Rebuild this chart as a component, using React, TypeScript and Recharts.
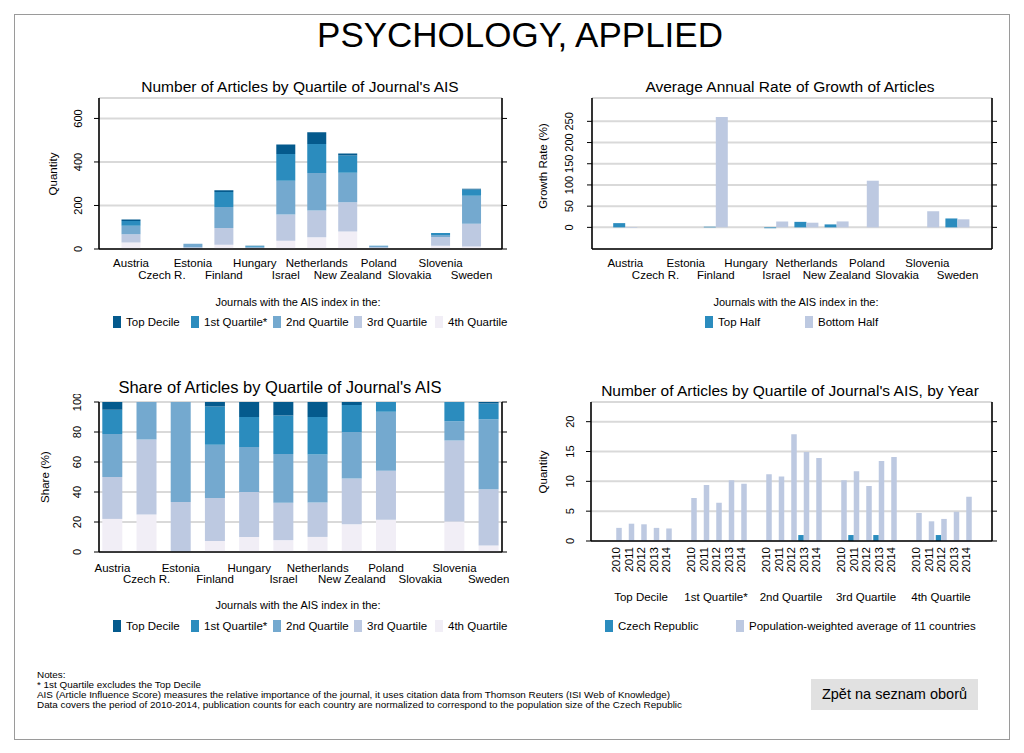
import React from "react";
import { BarChart, Bar, XAxis, YAxis, CartesianGrid } from "recharts";

const FONT = "'Liberation Sans', Arial, Helvetica, sans-serif";

// ---------------- data ----------------
const countries = ["Austria", "Czech R.", "Estonia", "Finland", "Hungary", "Israel", "Netherlands", "New Zealand", "Poland", "Slovakia", "Slovenia", "Sweden"];

const quartileNames = ["Top Decile", "1st Quartile*", "2nd Quartile", "3rd Quartile", "4th Quartile"];
const quartileColors = ["#045a8d", "#2b8cbe", "#74a9cf", "#bdc9e1", "#f1eef6"];

const topDecile = [7, 0, 0, 8, 1.5, 43, 54, 9, 0, 0, 0, 3];
const firstQuartile = [22, 0, 0, 69, 3, 123, 134, 79, 1, 0, 9.5, 29];
const secondQuartile = [39, 1, 16, 96, 4.5, 156, 172, 136, 6, 0, 9.5, 129];
const thirdQuartile = [38, 2, 8, 77, 4.5, 120, 123, 134, 5, 0, 40, 104];
const fourthQuartile = [30, 1, 0, 20, 1.5, 38, 54, 81, 3.3, 0, 15, 12];

const halfNames = ["Top Half", "Bottom Half"];
const halfColors = ["#2b8cbe", "#bdc9e1"];
const growthTopHalf = [10, null, null, 1.5, null, -2, 13, 7, null, null, null, 21];
const growthBottomHalf = [-1.5, null, null, 260, null, 14, 11, 14, 110, null, 38, 19];

const years = ["2010", "2011", "2012", "2013", "2014"];
const yearSeriesNames = ["Czech Republic", "Population-weighted average of 11 countries"];
const yearSeriesColors = ["#2b8cbe", "#bdc9e1"];
const czechTopDecile = [0, 0, 0, 0, 0];
const czechFirstQuartile = [0, 0, 0, 0, 0];
const czechSecondQuartile = [0, 0, 0, 1, 0];
const czechThirdQuartile = [0, 1, 0, 1, 0];
const czechFourthQuartile = [0, 0, 1, 0, 0];
const avgTopDecile = [2.2, 2.9, 2.8, 2.2, 2.1];
const avgFirstQuartile = [7.2, 9.4, 6.4, 10.2, 9.6];
const avgSecondQuartile = [11.2, 10.8, 17.9, 14.9, 13.9];
const avgThirdQuartile = [10.2, 11.7, 9.2, 13.4, 14.1];
const avgFourthQuartile = [4.7, 3.3, 3.7, 4.9, 7.4];

const quantityTicks = [0, 200, 400, 600];
const growthTicks = [0, 50, 100, 150, 200, 250];
const shareTicks = [0, 0.2, 0.4, 0.6, 0.8, 1];
const yearTicks = [0, 5, 10, 15, 20];

const notes = [
  "Notes:",
  "* 1st Quartile excludes the Top Decile",
  "AIS (Article Influence Score) measures the relative importance of the journal, it uses citation data from Thomson Reuters (ISI Web of Knowledge)",
  "Data covers the period of 2010-2014, publication counts for each country are normalized to correspond to the population size of the Czech Republic",
];

// ---------------- derived tables ----------------
const quartileSeries = [topDecile, firstQuartile, secondQuartile, thirdQuartile, fourthQuartile];
const quartileKeys = ["q0", "q1", "q2", "q3", "q4"];
const countryRows = countries.map((c, i) => {
  const row: any = { country: c };
  quartileKeys.forEach((k, j) => (row[k] = quartileSeries[j][i]));
  return row;
});
const growthRows = countries.map((c, i) => ({ country: c, top: growthTopHalf[i], bottom: growthBottomHalf[i] }));

const czechByGroup = [czechTopDecile, czechFirstQuartile, czechSecondQuartile, czechThirdQuartile, czechFourthQuartile];
const avgByGroup = [avgTopDecile, avgFirstQuartile, avgSecondQuartile, avgThirdQuartile, avgFourthQuartile];
const yearRows: any[] = [];
quartileNames.forEach((g, gi) => {
  if (gi > 0) yearRows.push({ key: "gap" + gi, spacer: true });
  years.forEach((y, yi) => {
    yearRows.push({
      key: g + "|" + y,
      group: g,
      year: y,
      mid: yi === Math.floor(years.length / 2),
      czech: czechByGroup[gi][yi] || null,
      avg: avgByGroup[gi][yi],
    });
  });
});

// ---------------- helpers ----------------
const AXIS_LINE = { stroke: "#000", strokeWidth: 1.6 };
const TICK_LINE = { stroke: "#000", strokeWidth: 1 };
const GRID = "#d9d9d9";

const makeCountryTick = (r1: number, r2: number) => (props: any) => {
  const { x, y, payload } = props;
  const idx = countries.indexOf(payload.value);
  return (
    <text x={x} y={y + (idx % 2 === 0 ? r1 : r2)} textAnchor="middle" fontSize={11.5} fontFamily={FONT} fill="#000">
      {payload.value}
    </text>
  );
};

const makeYTick = (offset: number, fmt: (v: number) => string = (v) => String(v)) => (props: any) => {
  const { x, y, payload } = props;
  const bx = x + 5 - offset + 4;
  return (
    <text x={bx} y={y} transform={`rotate(-90 ${bx} ${y})`} textAnchor="middle" fontSize={11} fontFamily={FONT} fill="#000">
      {fmt(payload.value)}
    </text>
  );
};

const EmptyTick = () => <g />;

const YearTick = (props: any) => {
  const { x, y, payload } = props;
  const row = yearRows.find((r) => r.key === payload.value);
  if (!row || row.spacer) return <g />;
  return (
    <g>
      <text transform={`translate(${x + 4},${y + 6}) rotate(-90)`} textAnchor="end" fontSize={11.5} fontFamily={FONT} fill="#000">
        {row.year}
      </text>
      {row.mid ? (
        <text x={x} y={y + 60} textAnchor="middle" fontSize={11.5} fontFamily={FONT} fill="#000">
          {row.group}
        </text>
      ) : null}
    </g>
  );
};

function Title({ cx, cy, size, children }: any) {
  return (
    <div style={{ position: "absolute", left: cx - 300, width: 600, top: cy - size / 2, lineHeight: size + "px", fontSize: size, textAlign: "center", whiteSpace: "nowrap" }}>
      {children}
    </div>
  );
}

function VLabel({ cx, cy, children }: any) {
  return (
    <div style={{ position: "absolute", left: cx, top: cy, transform: "translate(-50%,-50%) rotate(-90deg)", fontSize: 11.5, lineHeight: "12px", whiteSpace: "nowrap" }}>
      {children}
    </div>
  );
}

function LegendRow({ left, cy, names, colors, widths }: any) {
  return (
    <div style={{ position: "absolute", left, top: cy - 7, height: 14, display: "flex", alignItems: "center", fontSize: 11.5 }}>
      {names.map((n: string, i: number) => (
        <div key={n} style={{ display: "flex", alignItems: "center", width: widths[i], flex: "none" }}>
          <span style={{ display: "inline-block", width: 8, height: 12, background: colors[i], marginRight: 5, flex: "none" }} />
          <span style={{ whiteSpace: "nowrap" }}>{n}</span>
        </div>
      ))}
    </div>
  );
}

// ---------------- app ----------------
export default function App() {
  const stackOrder = [4, 3, 2, 1, 0];
  return (
    <div style={{ position: "absolute", left: 0, top: 0, width: 1024, height: 753, background: "#fff", fontFamily: FONT, color: "#000", overflow: "hidden" }}>
      <div style={{ position: "absolute", left: 14, top: 14, width: 996, height: 726, border: "1px solid #9a9a9a", boxSizing: "border-box" }} />
      <Title cx={520} cy={34} size={35}>PSYCHOLOGY, APPLIED</Title>

      {/* Top-left */}
      <Title cx={300} cy={87} size={15.5}>Number of Articles by Quartile of Journal's AIS</Title>
      <VLabel cx={53} cy={174}>Quantity</VLabel>
      <div style={{ position: "absolute", left: 40, top: 90 }}>
        <BarChart width={470} height={200} data={countryRows} margin={{ top: 8, right: 0, bottom: 0, left: 0 }} barSize={19}>
          <CartesianGrid vertical={false} stroke={GRID} strokeWidth={2} />
          <XAxis dataKey="country" interval={0} tickLine={false} tickSize={0} tickMargin={0} height={41} axisLine={AXIS_LINE} tick={makeCountryTick(18, 30)} padding={{ left: 16.5, right: 15 }} />
          <XAxis xAxisId="t" dataKey="country" orientation="top" height={0} tick={false} tickLine={false} axisLine={AXIS_LINE} />
          <YAxis width={59} domain={[0, 694]} ticks={quantityTicks} interval={0} allowDataOverflow tickSize={5} tickMargin={0} tickLine={TICK_LINE} axisLine={AXIS_LINE} tick={makeYTick(21)} />
          <YAxis yAxisId="r" orientation="right" width={8} domain={[0, 694]} ticks={quantityTicks} interval={0} allowDataOverflow tickSize={5} tickLine={TICK_LINE} axisLine={AXIS_LINE} tick={EmptyTick} />
          {stackOrder.map((j) => (
            <Bar key={j} dataKey={quartileKeys[j]} name={quartileNames[j]} stackId="a" fill={quartileColors[j]} isAnimationActive={false} />
          ))}
        </BarChart>
      </div>
      <Title cx={298} cy={302} size={11}>Journals with the AIS index in the:</Title>
      <LegendRow left={113} cy={322} names={quartileNames} colors={quartileColors} widths={[78, 82, 81, 81, 80]} />

      {/* Top-right */}
      <Title cx={790} cy={87} size={15.5}>Average Annual Rate of Growth of Articles</Title>
      <VLabel cx={543} cy={166}>Growth Rate (%)</VLabel>
      <div style={{ position: "absolute", left: 530, top: 90 }}>
        <BarChart width={470} height={200} data={growthRows} margin={{ top: 8, right: 0, bottom: 0, left: 0 }} barSize={12} barGap={0}>
          <CartesianGrid vertical={false} stroke={GRID} strokeWidth={2} />
          <XAxis dataKey="country" interval={0} tickLine={false} tickSize={0} tickMargin={0} height={41} axisLine={AXIS_LINE} tick={makeCountryTick(18, 30)} padding={{ left: 18.2, right: 19.4 }} />
          <XAxis xAxisId="t" dataKey="country" orientation="top" height={0} tick={false} tickLine={false} axisLine={AXIS_LINE} />
          <YAxis width={62} domain={[-51, 305]} ticks={growthTicks} interval={0} allowDataOverflow tickSize={5} tickMargin={0} tickLine={TICK_LINE} axisLine={AXIS_LINE} tick={makeYTick(23)} />
          <YAxis yAxisId="r" orientation="right" width={8} domain={[-51, 305]} ticks={growthTicks} interval={0} allowDataOverflow tickSize={5} tickLine={TICK_LINE} axisLine={AXIS_LINE} tick={EmptyTick} />
          <Bar dataKey="top" name={halfNames[0]} fill={halfColors[0]} isAnimationActive={false} />
          <Bar dataKey="bottom" name={halfNames[1]} fill={halfColors[1]} isAnimationActive={false} />
        </BarChart>
      </div>
      <Title cx={796} cy={302} size={11}>Journals with the AIS index in the:</Title>
      <LegendRow left={705} cy={322} names={halfNames} colors={halfColors} widths={[100, 110]} />

      {/* Bottom-left */}
      <Title cx={280} cy={387} size={16.5}>Share of Articles by Quartile of Journal's AIS</Title>
      <VLabel cx={45} cy={477}>Share (%)</VLabel>
      <div style={{ position: "absolute", left: 40, top: 394 }}>
        <BarChart width={470} height={200} data={countryRows} stackOffset="expand" margin={{ top: 8, right: 0, bottom: 0, left: 0 }} barSize={20}>
          <CartesianGrid vertical={false} stroke={GRID} strokeWidth={2} />
          <XAxis dataKey="country" interval={0} tickLine={false} tickSize={0} tickMargin={0} height={42} axisLine={AXIS_LINE} tick={makeCountryTick(20, 31)} padding={{ left: -3.7, right: -3.8 }} />
          <XAxis xAxisId="t" dataKey="country" orientation="top" height={0} tick={false} tickLine={false} axisLine={AXIS_LINE} />
          <YAxis width={59} domain={[0, 1]} ticks={shareTicks} interval={0} allowDataOverflow tickSize={5} tickMargin={0} tickLine={TICK_LINE} axisLine={AXIS_LINE} tick={makeYTick(22, (v) => String(Math.round(v * 100)))} />
          <YAxis yAxisId="r" orientation="right" width={8} domain={[0, 1]} ticks={shareTicks} interval={0} allowDataOverflow tickSize={5} tickLine={TICK_LINE} axisLine={AXIS_LINE} tick={EmptyTick} />
          {stackOrder.map((j) => (
            <Bar key={j} dataKey={quartileKeys[j]} name={quartileNames[j]} stackId="a" fill={quartileColors[j]} isAnimationActive={false} />
          ))}
        </BarChart>
      </div>
      <Title cx={298} cy={605} size={11}>Journals with the AIS index in the:</Title>
      <LegendRow left={113} cy={626} names={quartileNames} colors={quartileColors} widths={[78, 82, 81, 81, 80]} />

      {/* Bottom-right */}
      <Title cx={790} cy={391} size={15.5}>Number of Articles by Quartile of Journal's AIS, by Year</Title>
      <VLabel cx={543} cy={472}>Quantity</VLabel>
      <div style={{ position: "absolute", left: 530, top: 394 }}>
        <BarChart width={470} height={220} data={yearRows} margin={{ top: 8, right: 0, bottom: 0, left: 0 }} barSize={5.5} barGap={0}>
          <CartesianGrid vertical={false} stroke={GRID} strokeWidth={2} />
          <XAxis dataKey="key" interval={0} tickLine={false} tickSize={0} tickMargin={0} height={73} axisLine={AXIS_LINE} tick={YearTick} padding={{ left: 18.75, right: 19.75 }} />
          <XAxis xAxisId="t" dataKey="key" orientation="top" height={0} tick={false} tickLine={false} axisLine={AXIS_LINE} />
          <YAxis width={61} domain={[0, 23.3]} ticks={yearTicks} interval={0} allowDataOverflow tickSize={5} tickMargin={0} tickLine={TICK_LINE} axisLine={AXIS_LINE} tick={makeYTick(21)} />
          <YAxis yAxisId="r" orientation="right" width={8} domain={[0, 23.3]} ticks={yearTicks} interval={0} allowDataOverflow tickSize={5} tickLine={TICK_LINE} axisLine={AXIS_LINE} tick={EmptyTick} />
          <Bar dataKey="czech" name={yearSeriesNames[0]} fill={yearSeriesColors[0]} isAnimationActive={false} />
          <Bar dataKey="avg" name={yearSeriesNames[1]} fill={yearSeriesColors[1]} isAnimationActive={false} />
        </BarChart>
      </div>
      <LegendRow left={605} cy={626} names={yearSeriesNames} colors={yearSeriesColors} widths={[131, 260]} />

      {/* Notes */}
      <div style={{ position: "absolute", left: 37, top: 670, fontSize: 9.9, lineHeight: "10px", whiteSpace: "nowrap" }}>
        {notes.map((n) => (
          <div key={n}>{n}</div>
        ))}
      </div>

      {/* Button */}
      <div style={{ position: "absolute", left: 811, top: 679, width: 167, height: 31, background: "#e1e1e1", fontSize: 14.5, lineHeight: "31px", textAlign: "center", whiteSpace: "nowrap" }}>
        Zpět na seznam oborů
      </div>
    </div>
  );
}
